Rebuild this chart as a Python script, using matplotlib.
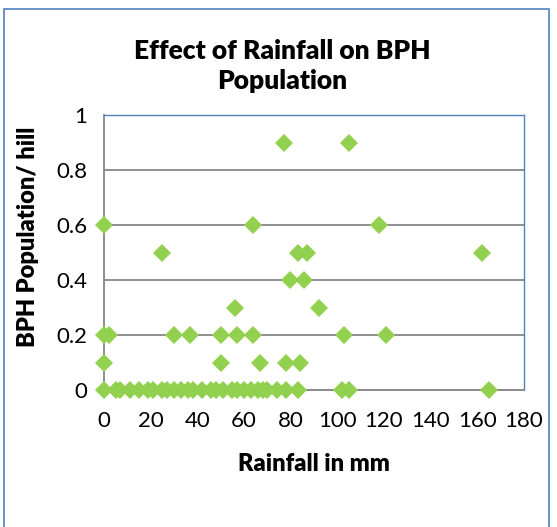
import matplotlib
matplotlib.use("Agg")
import matplotlib.pyplot as plt
from matplotlib.patches import Rectangle

# rainfall (mm) vs BPH population per hill
rain_zero = [0, 5, 7, 11, 15, 19, 21, 25, 27, 30, 33, 36, 38, 42, 46, 48, 51,
             55, 57, 60, 63, 66, 68, 70, 74, 78, 83, 102, 105, 165]
rain_01 = [0, 50, 67, 78, 84]
rain_02 = [0, 2, 30, 37, 50, 57, 64, 103, 121]
rain_03 = [56, 92]
rain_04 = [79.5, 85.5]
rain_05 = [25, 83, 87, 162]
rain_06 = [0, 64, 118]
rain_09 = [77, 105]

rainfall = rain_zero + rain_01 + rain_02 + rain_03 + rain_04 + rain_05 + rain_06 + rain_09
bph = ([0] * len(rain_zero) + [0.1] * len(rain_01) + [0.2] * len(rain_02) + [0.3] * len(rain_03)
       + [0.4] * len(rain_04) + [0.5] * len(rain_05) + [0.6] * len(rain_06) + [0.9] * len(rain_09))

xticks = [0, 20, 40, 60, 80, 100, 120, 140, 160, 180]
yticks = [0, 0.2, 0.4, 0.6, 0.8, 1]
ylabels = ["0", "0.2", "0.4", "0.6", "0.8", "1"]

plt.rcParams['font.family'] = ['Lato', 'DejaVu Sans']

fig = plt.figure(figsize=(5.57, 5.27), dpi=100)
fig.patches.append(Rectangle((4 / 557, -0.01), 545 / 557, 1 - 9 / 527 + 0.01,
                             transform=fig.transFigure, fill=False,
                             edgecolor='#4F81BD', linewidth=1.2))

ax = fig.add_axes([104 / 557, 1 - 390 / 527, 420 / 557, 275 / 527])
ax.plot(rainfall, bph, linestyle='none', marker='D', markersize=9,
        color='#92D050', markeredgewidth=0, clip_on=False, zorder=3)

ax.set_xlim(0, 180)
ax.set_ylim(0, 1)
ax.set_xticks(xticks)
ax.set_yticks(yticks)
ax.set_yticklabels(ylabels)
ax.tick_params(length=0, labelsize=16)
ax.tick_params(axis='x', pad=15)
ax.tick_params(axis='y', pad=12)
ax.grid(axis='y', color='#868686', linewidth=1.3)
ax.set_axisbelow(True)
for side in ['left', 'bottom']:
    ax.spines[side].set_color('#868686')
    ax.spines[side].set_linewidth(1.3)
for side in ['top', 'right']:
    ax.spines[side].set_color('#4F81BD')
    ax.spines[side].set_linewidth(1.0)

fig.text(282 / 557, 1 - 66 / 527, "Effect of Rainfall on BPH\nPopulation", ha='center', va='center',
         fontsize=19, fontweight='heavy', linespacing=1.3)
fig.text(314 / 557, 1 - 464 / 527, "Rainfall in mm", ha='center', va='center',
         fontsize=17, fontweight='heavy')
fig.text(28 / 557, 1 - 237 / 527, "BPH Population/ hill", ha='center', va='center',
         rotation=90, fontsize=17, fontweight='heavy')

fig.savefig("out.png", dpi=100)
